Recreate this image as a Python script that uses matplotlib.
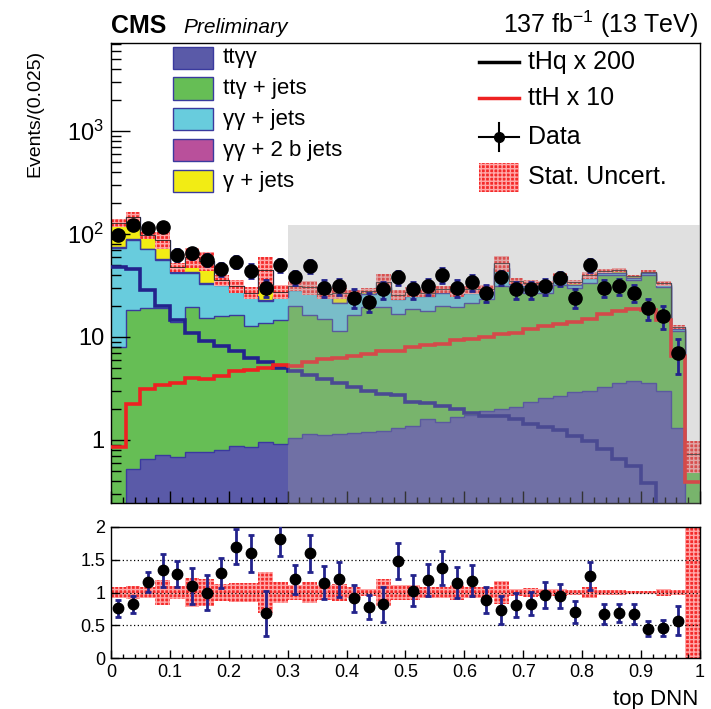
import numpy as np
import matplotlib
matplotlib.use("Agg")
import matplotlib.pyplot as plt
from matplotlib.patches import Rectangle
from matplotlib.lines import Line2D
from matplotlib.ticker import MultipleLocator, FixedLocator, FixedFormatter, NullFormatter, LogLocator

plt.rcParams['font.family'] = ['Liberation Sans', 'DejaVu Sans']
plt.rcParams['mathtext.fontset'] = 'custom'
plt.rcParams['mathtext.rm'] = 'Liberation Sans'
plt.rcParams['mathtext.it'] = 'Liberation Sans:italic'
plt.rcParams['hatch.linewidth'] = 1.0

# 40 bins of 0.025 in top DNN score
edges = np.linspace(0, 1, 41)

# stacked backgrounds, events per bin
ttgg = [0, 0.52, 0.65, 0.71, 0.69, 0.77, 0.77, 0.80, 0.87, 0.85,
        0.96, 0.91, 1.05, 1.14, 1.12, 1.15, 1.17, 1.20, 1.22, 1.32,
        1.37, 1.58, 1.51, 1.68, 1.76, 1.89, 2.00, 2.07, 2.32, 2.54,
        2.68, 2.89, 2.98, 3.30, 3.57, 3.76, 3.60, 2.98, 1.32, 0]
ttg_jets = [8.0, 17.8, 18.4, 18.3, 13.3, 18.6, 14.4, 15.0, 15.4, 11.8,
            12.6, 13.7, 19.0, 15.2, 13.7, 10.2, 15.1, 18.2, 18.2, 15.4,
            17.2, 16.4, 18.5, 17.7, 19.8, 21.3, 29.0, 27.6, 24.2, 24.0,
            29.3, 26.8, 30.7, 36.7, 36.4, 31.9, 36.4, 27.7, 10.0, 0.73]
gg_jets = [65.6, 69.2, 52.0, 37.0, 28.0, 22.6, 17.5, 16.2, 12.3, 12.0,
           8.9, 10.0, 8.6, 11.2, 9.5, 9.9, 8.3, 6.8, 10.6, 6.5,
           6.4, 7.0, 6.5, 6.8, 5.3, 4.3, 16.0, 3.3, 4.8, 3.2,
           3.7, 2.3, 3.3, 1.5, 2.0, 1.8, 1.5, 1.3, 0.7, 0]
gg_2b = [1.5, 1.5, 1.0, 1.0, 0.5, 0.5, 0.5, 0.4, 0.3, 0.3,
         0.3, 0.3, 0.3, 0.3, 0.2, 0.2, 0.2, 0.2, 0.2, 0.2,
         0.2, 0.2, 0.2, 0.2, 0.2, 0.2, 0.2, 0.1, 0.1, 0.1,
         0.1, 0.1, 0.1, 0.1, 0.1, 0.1, 0.1, 0.05, 0, 0]
g_jets = [52.0, 58.0, 26.0, 30.5, 5.5, 17.5, 21.8, 3.3, 2.4, 2.0,
          22.2, 2.6, 2.6, 2.5, 1.7, 5.2, 1.8, 1.7, 3.8, 2.2,
          2.3, 1.8, 2.3, 1.5, 1.9, 1.7, 4.8, 1.9, 2.3, 3.4,
          3.2, 2.3, 2.9, 2.0, 2.5, 1.4, 1.4, 1.15, 0.4, 0]

# signals (scaled)
thq_x200 = [48, 45.5, 28.8, 19.8, 14.5, 10.9, 9.2, 8.1, 7.3, 6.3,
            5.65, 5.0, 4.67, 4.24, 3.87, 3.57, 3.30, 3.02, 2.80, 2.75,
            2.36, 2.27, 2.15, 2.00, 1.81, 1.69, 1.69, 1.58, 1.44, 1.34,
            1.24, 1.09, 0.98, 0.82, 0.66, 0.56, 0.38, 0, 0, 0]
tth_x10 = [0.85, 2.24, 3.14, 3.38, 3.57, 4.02, 3.93, 4.17, 4.64, 4.82,
           5.0, 5.4, 5.2, 5.74, 6.05, 6.3, 6.6, 6.9, 7.3, 7.3,
           8.0, 8.3, 8.5, 9.3, 9.5, 10.0, 10.7, 11.0, 12.0, 12.8,
           13.4, 14.0, 15.0, 16.8, 17.7, 18.8, 18.4, 14.6, 6.6, 0.39]

data = [98, 122, 113, 117, 63, 65, 56, 46, 54, 44,
        30, 50, 38, 49, 30, 31, 24, 22, 29, 38,
        29, 31, 40, 30, 34, 27, 38, 29, 29, 31,
        37, 24, 50, 30, 31, 27, 19, 16, 7, 0]

# relative MC stat uncertainty (main panel band)
mc_stat_rel = [0.09, 0.10, 0.08, 0.19, 0.10, 0.22, 0.21, 0.13, 0.14, 0.14,
               0.32, 0.16, 0.11, 0.16, 0.11, 0.13, 0.08, 0.06, 0.21, 0.11,
               0.11, 0.09, 0.08, 0.12, 0.09, 0.08, 0.17, 0.06, 0.07, 0.06,
               0.06, 0.04, 0.08, 0.04, 0.04, 0.03, 0.03, 0.05, 0.04, 0.35]
# same band in the ratio panel (last bin covers the full range)
ratio_band_rel = mc_stat_rel[:-1] + [1.2]

# data / MC
ratio = [0.76, 0.82, 1.16, 1.34, 1.28, 1.10, 1.00, 1.30, 1.70, 1.60,
         0.68, 1.81, 1.20, 1.60, 1.15, 1.20, 0.91, 0.78, 0.82, 1.48,
         1.03, 1.19, 1.38, 1.15, 1.18, 0.89, 0.73, 0.81, 0.83, 0.96,
         0.95, 0.70, 1.25, 0.67, 0.69, 0.67, 0.45, 0.46, 0.57, np.nan]
ratio_err = [0.13, 0.13, 0.15, 0.25, 0.20, 0.27, 0.27, 0.23, 0.27, 0.28,
             0.34, 0.25, 0.22, 0.28, 0.25, 0.27, 0.20, 0.18, 0.27, 0.28,
             0.23, 0.25, 0.26, 0.24, 0.24, 0.20, 0.21, 0.18, 0.18, 0.20,
             0.18, 0.17, 0.21, 0.15, 0.14, 0.15, 0.11, 0.12, 0.22, np.nan]

blind_lo = 0.3
blind_top = 122

names = ["ttγγ", "ttγ + jets", "γγ + jets", "γγ + 2 b jets", "γ + jets"]
colors = ["#5a5aa8", "#66be55", "#68ccdd", "#b9509b", "#f2ec14"]
edge_col = "#3a3a9e"
navy = "#23238c"
hatch_face = "#f42a2a"
hatch_col = "#ffa8a8"

centers = 0.5 * (edges[1:] + edges[:-1])
floor = 1e-3

fig = plt.figure(figsize=(7.11, 7.09), dpi=100)
ax = fig.add_axes([0.1561, 0.2905, 0.8284, 0.6489])
ax2 = fig.add_axes([0.1561, 0.0719, 0.8284, 0.1848])

# stack
layers = np.array([ttgg, ttg_jets, gg_jets, gg_2b, g_jets])
cum = np.cumsum(layers, axis=0)
for i in reversed(range(len(layers))):
    top = np.clip(cum[i], floor, None)
    ax.stairs(top, edges, baseline=floor, fill=True, color=colors[i], zorder=1)
    ax.stairs(top, edges, baseline=None, color=edge_col, lw=1.0, zorder=1)

total = cum[-1]
rel = np.array(mc_stat_rel)
ax.stairs(total * (1 + rel), edges, baseline=np.clip(total * (1 - rel), floor, None),
          fill=True, facecolor=hatch_face, edgecolor=hatch_col, hatch="++++", lw=0, zorder=2)
ax.stairs(total, edges, baseline=None, color="#222222", lw=0.6, zorder=2)

ax.stairs(np.clip(thq_x200, floor, None), edges, baseline=None, color=navy, lw=2.6, zorder=3)
ax.stairs(tth_x10, edges, baseline=None, color="#ee2222", lw=2.6, zorder=3)

# blinded region
ax.fill_between([blind_lo, 1.0], floor, blind_top, color="#9f9f9f", alpha=0.32, lw=0, zorder=4)

data = np.array(data, dtype=float)
m = data > 0
ax.errorbar(centers[m], data[m], yerr=np.sqrt(data[m]), fmt="o", color="black", ms=9.5,
            ecolor=navy, elinewidth=2, capsize=2.5, capthick=2, zorder=5)

ax.set_yscale("log")
ax.set_ylim(0.244, 7150)
ax.set_xlim(0, 1)
ax.yaxis.set_major_locator(FixedLocator([1, 10, 100, 1000]))
ax.yaxis.set_major_formatter(FixedFormatter(["1", "10", "$10^{2}$", "$10^{3}$"]))
ax.yaxis.set_minor_locator(LogLocator(base=10, subs=np.arange(2, 10)))
ax.yaxis.set_minor_formatter(NullFormatter())
ax.xaxis.set_major_locator(MultipleLocator(0.1))
ax.xaxis.set_minor_locator(MultipleLocator(0.02))
ax.tick_params(axis="y", which="major", direction="in", length=14, width=1, labelsize=17, pad=5)
ax.tick_params(axis="y", which="minor", direction="in", length=7, width=1)
ax.tick_params(axis="x", which="major", direction="in", length=8.5, width=1, labelbottom=False)
ax.tick_params(axis="x", which="minor", direction="in", length=4.3, width=1)

# legends
tr = ax.transAxes
for i, yy in enumerate([0.968, 0.901, 0.834, 0.767, 0.699]):
    ax.add_patch(Rectangle((0.105, yy - 0.024), 0.068, 0.048, transform=tr,
                           facecolor=colors[i], edgecolor=edge_col, lw=1, zorder=10))
    ax.text(0.19, yy, names[i], transform=tr, va="center", fontsize=16, zorder=10)

lx0, lx1, tx = 0.625, 0.693, 0.708
ax.add_line(Line2D([lx0, lx1], [0.959, 0.959], transform=tr, color="black", lw=2.5, zorder=10))
ax.text(tx, 0.959, "tHq x 200", transform=tr, va="center", fontsize=18, zorder=10)
ax.add_line(Line2D([lx0, lx1], [0.880, 0.880], transform=tr, color="#ee2222", lw=2.5, zorder=10))
ax.text(tx, 0.880, "ttH x 10", transform=tr, va="center", fontsize=18, zorder=10)
ax.add_line(Line2D([lx0, lx1], [0.796, 0.796], transform=tr, color="black", lw=1.5, zorder=10))
ax.add_line(Line2D([0.659, 0.659], [0.766, 0.826], transform=tr, color="black", lw=1.5, zorder=10))
ax.add_line(Line2D([0.659], [0.796], transform=tr, color="black", marker="o", ms=7, zorder=10))
ax.text(tx, 0.796, "Data", transform=tr, va="center", fontsize=18, zorder=10)
ax.add_patch(Rectangle((lx0, 0.709 - 0.032), lx1 - lx0, 0.063, transform=tr, facecolor=hatch_face,
                       edgecolor=hatch_col, hatch="++++", lw=0, zorder=10))
ax.text(tx, 0.709, "Stat. Uncert.", transform=tr, va="center", fontsize=18, zorder=10)

fig.text(0.156, 0.9535, "CMS", fontsize=18, fontweight="bold", va="baseline")
fig.text(0.2574, 0.9535, "Preliminary", fontsize=15, style="italic", va="baseline")
fig.text(0.9817, 0.9535, "137 fb$^{-1}$ (13 TeV)", fontsize=18, ha="right", va="baseline")
fig.text(0.049, 0.9295, "Events/(0.025)", fontsize=14, rotation=90, ha="center", va="top")

# ratio panel
rb = np.array(ratio_band_rel)
ax2.stairs(1 + rb, edges, baseline=1 - rb, fill=True, facecolor=hatch_face,
           edgecolor=hatch_col, hatch="++++", lw=0, zorder=1)
for yy in [0.5, 1.0, 1.5]:
    ax2.axhline(yy, color="black", ls=(0, (1, 2)), lw=0.9, zorder=2)
ax2.errorbar(centers, ratio, yerr=ratio_err, fmt="o", color="black", ms=7.5,
             ecolor=navy, elinewidth=2, capsize=2.5, capthick=2, zorder=3)
ax2.set_xlim(0, 1)
ax2.set_ylim(0, 2)
ax2.yaxis.set_major_locator(FixedLocator([0, 0.5, 1, 1.5, 2]))
ax2.yaxis.set_major_formatter(FixedFormatter(["0", "0.5", "1", "1.5", "2"]))
ax2.xaxis.set_major_locator(FixedLocator(np.round(np.arange(0, 1.01, 0.1), 1)))
ax2.xaxis.set_major_formatter(FixedFormatter(["0", "0.1", "0.2", "0.3", "0.4", "0.5",
                                              "0.6", "0.7", "0.8", "0.9", "1"]))
ax2.xaxis.set_minor_locator(MultipleLocator(0.02))
ax2.tick_params(axis="both", which="major", direction="in", length=6, width=1, labelsize=13, pad=4)
ax2.tick_params(axis="x", which="minor", direction="in", length=3, width=1)
fig.text(0.9817, 0.0127, "top DNN", fontsize=16, ha="right", va="center")

for a in (ax, ax2):
    for s in a.spines.values():
        s.set_linewidth(1.0)

fig.savefig("out.png", dpi=100)
